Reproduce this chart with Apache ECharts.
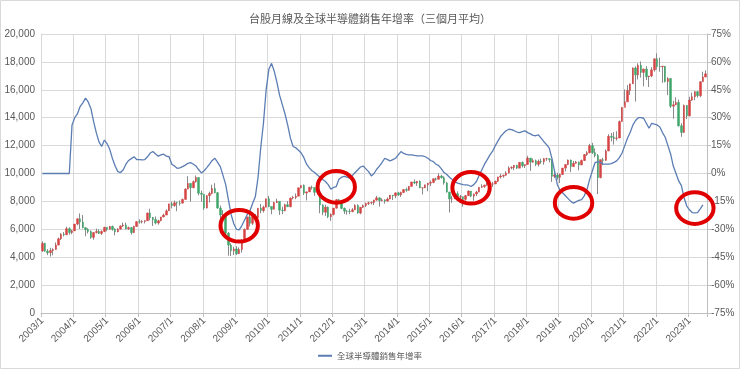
<!DOCTYPE html>
<html>
<head>
<meta charset="utf-8">
<script src="https://cdn.jsdelivr.net/npm/echarts@6/dist/echarts.min.js"></script>
<style>
html,body{margin:0;padding:0;background:#fff;}
#chart{width:740px;height:369px;}
</style>
</head>
<body>
<div id="chart"></div>
<script>
// ---- data ----
const startYear = 2003;
const monthCount = 247; // 2003/1 .. 2023/7
const categories = [];
for (let i = 0; i < monthCount; i++) {
  categories.push((startYear + Math.floor(i / 12)) + '/' + (i % 12 + 1));
}

// TAIEX monthly candles: [open, close, low, high]
const taiexOHLC = [
  // 2003
  [4453,4991,4393,5141],[4991,4432,4400,5034],[4432,4321,4150,4580],[4321,4480,4044,4670],
  [4480,4555,4139,4640],[4555,4872,4550,5058],[4872,5318,4850,5403],[5318,5650,5229,5728],
  [5650,5611,5493,5808],[5611,6045,5584,6182],[6045,5771,5615,6143],[5771,5890,5647,5971],
  // 2004
  [5890,6375,5880,6375],[6375,6750,6287,6794],[6750,6522,6020,7135],[6522,6117,6067,7034],
  [6117,5977,5500,6140],[5977,5840,5700,6080],[5840,5420,5317,5920],[5420,5765,5255,5800],
  [5765,5845,5700,6050],[5845,5705,5660,6000],[5705,5845,5600,5920],[5845,6140,5790,6180],
  // 2005
  [6140,5995,5860,6120],[5995,6207,5990,6240],[6207,6006,5900,6265],[6006,5819,5565,6080],
  [5819,6012,5790,6080],[6012,6241,5980,6280],[6241,6311,6170,6480],[6311,6033,5990,6480],
  [6033,6119,5950,6190],[6119,5764,5618,6170],[5764,6203,5730,6260],[6203,6548,6180,6575],
  // 2006
  [6548,6532,6400,6720],[6532,6562,6420,6660],[6562,6614,6420,6640],[6614,7171,6610,7190],
  [7171,6846,6650,7476],[6846,6704,6240,6890],[6704,6452,6350,6920],[6452,6611,6330,6680],
  [6611,6883,6580,6890],[6883,7021,6860,7120],[7021,7321,7020,7430],[7321,7823,7310,7823],
  // 2007
  [7823,7699,7500,7990],[7699,7902,7620,8060],[7902,7884,7300,7980],[7884,7875,7700,8070],
  [7875,8145,7850,8200],[8145,8883,8130,8940],[8883,9287,8870,9809],[9287,8982,7987,9300],
  [8982,9411,8940,9500],[9411,9711,9350,9859],[9711,8586,8430,9720],[8586,8506,7980,8770],
  // 2008
  [8506,7521,7384,8510],[7521,8412,7500,8450],[8412,8572,7930,8700],[8572,8920,8500,9195],
  [8920,8619,8580,9309],[8619,7524,7480,8680],[7524,7024,6700,7700],[7024,7046,6800,7376],
  [7046,5719,5530,7100],[5719,4870,4110,5800],[4870,4460,4089,5000],[4460,4591,4160,4750],
  // 2009
  [4591,4248,4164,4780],[4248,4557,4242,4700],[4557,5210,4328,5300],[5210,5993,5200,6070],
  [5993,6890,5960,6890],[6890,6432,6200,7084],[6432,6958,6310,7000],[6958,6826,6600,7100],
  [6826,7509,6690,7510],[7509,7340,7140,7811],[7340,7582,7200,7690],[7582,8188,7580,8188],
  // 2010
  [8188,7640,7580,8395],[7640,7436,7080,7530],[7436,7920,7420,7950],[7920,8004,7880,8190],
  [8004,7374,7030,8010],[7374,7329,7080,7620],[7329,7761,7300,7830],[7761,7616,7600,8020],
  [7616,8238,7580,8270],[8238,8287,8150,8400],[8287,8372,8160,8570],[8372,8973,8372,8990],
  // 2011
  [8973,9145,8930,9145],[9145,8600,8460,9220],[8600,8683,8070,8700],[8683,9008,8680,9050],
  [9008,8988,8850,9130],[8988,8653,8400,9000],[8653,8644,8500,8950],[8644,7741,7150,8700],
  [7741,7225,7010,7800],[7225,7588,6950,7770],[7588,6904,6800,7640],[6904,7072,6609,7140],
  // 2012
  [7072,7517,6990,7530],[7517,8121,7480,8170],[8121,7933,7820,8170],[7933,7501,7440,7990],
  [7501,7301,7100,7560],[7301,7296,7050,7380],[7296,7270,7080,7470],[7270,7397,7220,7520],
  [7397,7715,7380,7800],[7715,7166,7120,7790],[7166,7580,7080,7600],[7580,7700,7530,7780],
  // 2013
  [7700,7850,7600,7910],[7850,7897,7740,7990],[7897,7919,7780,7990],[7919,8093,7730,8120],
  [8093,8254,8050,8400],[8254,8062,7630,8300],[8062,8108,8000,8230],[8108,8022,7830,8150],
  [8022,8173,7990,8280],[8173,8450,8150,8460],[8450,8406,8100,8450],[8406,8612,8230,8640],
  // 2014
  [8612,8462,8400,8690],[8462,8640,8320,8700],[8640,8849,8590,8870],[8849,8792,8690,8980],
  [8792,9075,8780,9100],[9075,9393,9070,9400],[9393,9316,9250,9570],[9316,9436,9110,9460],
  [9436,8966,8960,9500],[8966,8974,8500,9000],[8974,9187,8950,9190],[9187,9307,8730,9330],
  // 2015
  [9307,9361,9100,9500],[9361,9622,9300,9660],[9622,9586,9480,9700],[9586,9820,9580,10014],
  [9820,9701,9640,9900],[9701,9323,9200,9800],[9323,8665,8640,9400],[8665,8175,7203,8700],
  [8175,8181,7900,8400],[8181,8554,8180,8710],[8554,8320,8270,8720],[8320,8338,8000,8470],
  // 2016
  [8338,8145,7627,8340],[8145,8411,8050,8450],[8411,8745,8400,8790],[8745,8377,8300,8750],
  [8377,8535,8050,8560],[8535,8667,8380,8760],[8667,9007,8660,9010],[9007,9069,8980,9230],
  [9069,9167,8970,9200],[9167,9290,9130,9390],[9290,9240,8890,9350],[9240,9254,9030,9400],
  // 2017
  [9254,9448,9240,9480],[9448,9750,9390,9770],[9750,9812,9640,9972],[9812,9872,9700,9915],
  [9872,10041,9850,10160],[10041,10395,10010,10513],[10395,10427,10300,10520],[10427,10586,10240,10600],
  [10586,10384,10330,10620],[10384,10794,10380,10810],[10794,10560,10430,10860],[10560,10643,10400,10650],
  // 2018
  [10643,11104,10640,11270],[11104,10815,10190,11120],[10815,10919,10780,11080],[10919,10658,10530,11000],
  [10658,10875,10500,11000],[10875,10837,10700,11070],[10837,11057,10630,11100],[11057,11064,10900,11130],
  [11064,10998,10800,11070],[10998,9802,9400,11000],[9802,9888,9680,10100],[9888,9727,9560,10050],
  // 2019
  [9727,9932,9320,9990],[9932,10389,9900,10400],[10389,10641,10150,10650],[10641,10967,10600,11000],
  [10967,10498,10100,11000],[10498,10730,10500,10900],[10730,10824,10700,10900],[10824,10618,10230,10850],
  [10618,10934,10600,11000],[10934,11358,10900,11400],[11358,11489,11260,11600],[11489,11997,11440,12125],
  // 2020
  [11997,11495,11400,12197],[11495,11292,11150,11800],[11292,9708,8523,11400],[9708,10992,9650,11000],
  [10992,10943,10600,11120],[10943,11621,10900,11720],[11621,12665,11600,12820],[12665,12592,12300,12900],
  [12592,12516,12070,12970],[12516,12546,12360,13030],[12546,13723,12540,13800],[13723,14733,13720,14760],
  // 2021
  [14733,15138,14900,16030],[15138,15953,15190,16340],[15953,16431,15630,16430],[16431,17567,16430,17600],
  [17567,17068,15160,17680],[17068,17755,16740,17900],[17755,17247,16880,18034],[17247,17490,16250,17510],
  [17490,16935,16700,17700],[16935,16987,16200,17000],[16987,17428,16900,17630],[17428,18219,17300,18250],
  // 2022
  [18219,17674,17450,18619],[17674,17652,17300,18300],[17652,17693,16500,17720],[17693,16592,16530,17700],
  [16592,16807,15616,16900],[16807,14826,14700,16850],[14826,14926,13928,15210],[14926,15095,14900,15460],
  [15095,13425,13360,15300],[13425,12949,12629,13600],[12949,14880,12900,14940],[14880,14138,13900,14900],
  // 2023
  [14138,15265,14100,15500],[15265,15504,15200,15800],[15504,15868,15250,15900],[15868,15579,15440,15900],
  [15579,16579,15470,16600],[16579,16916,16570,17300],[16916,17145,16900,17400]
];

// Global semiconductor sales YoY (%), 3-month average
const semiYoY = [
  // 2003
  0,0,0,0,0,0,0,0,0,0,0,26,
  // 2004
  30,32,36,38,40.5,38.5,35,28,22,17,14.5,18,
  // 2005
  16,13,8,4,1,0.5,2,5,7,8,9,7.5,
  // 2006
  7.5,7.3,7.5,9,11,11.8,10.5,9.3,10,10.4,9.3,9,
  // 2007
  5,4,2.8,3,3.7,4.5,5.5,5.9,5,4,2,0.3,
  // 2008
  1.5,3.2,5,7,8.2,6,3.7,-1,-6,-14,-22,-27,
  // 2009
  -30,-30.3,-28,-25,-22,-20,-16,-12.4,-2,14,27,45,
  // 2010
  56,59.2,55,49,42,37,32,26,19,14.5,13.8,12.5,
  // 2011
  11,8.5,5,3,1.5,0.5,-0.8,-2,-3.2,-4.3,-6,-8.4,
  // 2012
  -7.5,-7,-3.1,-2,-1.6,-2,-2.5,-1,0.5,2,3.5,4,
  // 2013
  2.5,1,-1.3,0,2.3,4,6,8.2,7.5,6.8,7.5,8.2,
  // 2014
  10,11.8,10.8,10.3,10,10,9.7,9.5,9.5,9.5,9,8.2,
  // 2015
  7,6.4,5,4.2,2.5,0.5,-0.5,-2,-3.2,-4.5,-5.2,-5.6,
  // 2016
  -6,-6.1,-6.3,-7,-6,-4.3,-1,2,5,7.5,10,12,
  // 2017
  15,17.5,20,21.6,23,23.8,23.6,23,22.3,22,22.5,22.9,
  // 2018
  22,21.3,20.5,20.3,20.7,19,17.1,15.5,13.6,8,1,-6,
  // 2019
  -9,-10.5,-12,-13.5,-15,-16,-15.1,-14.5,-14,-12,-8.5,-3,
  // 2020
  1.5,5.9,6.4,6,5,5,5,5.3,6,6.8,8.5,11,
  // 2021
  15,19,22,26,28.5,30,30,29.7,27,24.3,27,26.5,
  // 2022
  26.1,25,22,19.5,15,10.5,4,0,-4,-6.5,-13,-17.5,
  // 2023
  -19.5,-21,-21.2,-21,-19,-16.9,null
];

// Red annotation circles: [category index, YoY %]
const circleNotes = [[73.1,-28.1],[108.5,-7.2],[158.6,-7.7],[196.9,-15.8],[241.6,-18.6]];

const leftTicks = {min:0, max:20000, interval:2000};
const rightTicks = {min:-75, max:75, interval:15};

// ---- chart ----
const chart = echarts.init(document.getElementById('chart'), null, {renderer:'canvas'});
const labelColor = '#595959';
const gridColor = '#d9d9d9';
const yearTick = (i) => i % 12 === 0;
const bodies = taiexOHLC.map(d => [d[0], d[1], Math.min(d[0], d[1]), Math.max(d[0], d[1])]);

chart.setOption({
  animation: false,
  backgroundColor: '#ffffff',
  title: {
    text: '台股月線及全球半導體銷售年增率（三個月平均）',
    left: 'center', top: 8,
    textStyle: {fontSize: 11, fontWeight: 'normal', color: labelColor, fontFamily: 'Noto Sans CJK TC'}
  },
  legend: {
    data: ['全球半導體銷售年增率'],
    bottom: 4, left: 'center',
    itemWidth: 14, itemHeight: 2, icon: 'rect',
    textStyle: {fontSize: 8.5, color: labelColor, fontFamily: 'Noto Sans CJK TC'}
  },
  grid: {left: 41, right: 33, top: 34, bottom: 56},
  xAxis: {
    type: 'category', data: categories, boundaryGap: true,
    axisLine: {lineStyle: {color: '#bfbfbf'}},
    axisTick: {show: true, interval: (i) => yearTick(i), length: 4, lineStyle: {color: '#bfbfbf'}},
    splitLine: {show: true, interval: (i) => yearTick(i), lineStyle: {color: gridColor}},
    axisLabel: {interval: (i) => yearTick(i), rotate: 45, fontSize: 10, color: labelColor,
      fontFamily: 'Liberation Sans', margin: 6}
  },
  yAxis: [
    {
      type: 'value', min: leftTicks.min, max: leftTicks.max, interval: leftTicks.interval,
      axisLine: {show: true, lineStyle: {color: gridColor}},
      axisTick: {show: false},
      splitLine: {lineStyle: {color: gridColor}},
      axisLabel: {fontSize: 10, color: labelColor, fontFamily: 'Liberation Sans', margin: 6,
        formatter: (v) => v.toLocaleString('en-US')}
    },
    {
      type: 'value', min: rightTicks.min, max: rightTicks.max, interval: rightTicks.interval,
      position: 'right',
      axisLine: {show: true, lineStyle: {color: '#bfbfbf'}},
      axisTick: {show: true, length: 4, lineStyle: {color: '#bfbfbf'}},
      splitLine: {show: false},
      axisLabel: {fontSize: 10, color: labelColor, fontFamily: 'Liberation Sans', margin: 4,
        formatter: (v) => v + '%'}
    }
  ],
  series: [
    {
      name: '台股月線', type: 'candlestick', data: taiexOHLC, barWidth: 1,
      itemStyle: {color: '#8a8a8a', color0: '#8a8a8a', borderColor: '#8a8a8a', borderColor0: '#8a8a8a', borderWidth: 1}
    },
    {
      name: '台股月線實體', type: 'candlestick', data: bodies, barWidth: 2,
      itemStyle: {color: '#d64545', color0: '#3fa66a', borderColor: '#d64545', borderColor0: '#3fa66a', borderWidth: 0.5}
    },
    {
      name: '全球半導體銷售年增率', type: 'line', yAxisIndex: 1, data: semiYoY,
      showSymbol: false, symbol: 'none', connectNulls: false,
      lineStyle: {color: '#5b7db3', width: 1.3}, itemStyle: {color: '#5b7db3'}
    }
  ]
});

// annotations placed through the chart's own coordinate system
const graphics = [{
  type: 'rect', shape: {x: 0.5, y: 0.5, width: 739, height: 368},
  style: {fill: 'none', stroke: '#d9d9d9', lineWidth: 1}, silent: true
}];
circleNotes.forEach(([cat, pct]) => {
  const p = chart.convertToPixel({xAxisIndex: 0, yAxisIndex: 1}, [cat, pct]);
  graphics.push({
    type: 'ellipse', shape: {cx: p[0], cy: p[1], rx: 18.7, ry: 15.8},
    style: {fill: 'none', stroke: '#e00000', lineWidth: 4}, z: 100, silent: true
  });
});
chart.setOption({graphic: graphics});
</script>
</body>
</html>
